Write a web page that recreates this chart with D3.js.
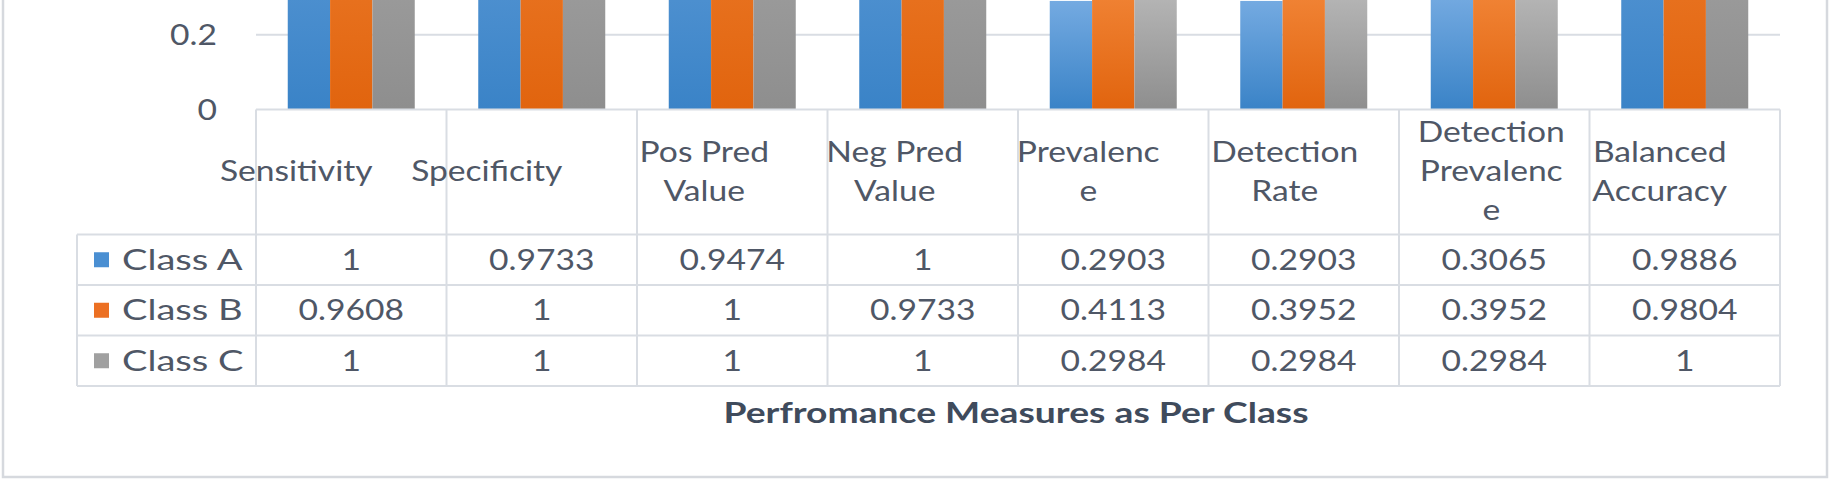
<!DOCTYPE html>
<html>
<head>
<meta charset="utf-8">
<script src="https://cdn.jsdelivr.net/npm/d3@7"></script>
<style>
  html, body { margin: 0; padding: 0; background: #ffffff; }
  svg { display: block; }
</style>
</head>
<body>
<svg id="chart" width="1834" height="480"></svg>
<script>
// ---------------- data ----------------
const categories = ["Sensitivity", "Specificity", "Pos Pred Value", "Neg Pred Value",
  "Prevalence", "Detection Rate", "Detection Prevalence", "Balanced Accuracy"];
const headerLines = [["Sensitivity"], ["Specificity"], ["Pos Pred", "Value"], ["Neg Pred", "Value"],
  ["Prevalenc", "e"], ["Detection", "Rate"], ["Detection", "Prevalenc", "e"], ["Balanced", "Accuracy"]];
const seriesNames = ["Class A", "Class B", "Class C"];
const classA = [1, 0.9733, 0.9474, 1, 0.2903, 0.2903, 0.3065, 0.9886];
const classB = [0.9608, 1, 1, 0.9733, 0.4113, 0.3952, 0.3952, 0.9804];
const classC = [1, 1, 1, 1, 0.2984, 0.2984, 0.2984, 1];
const yTicks = [0, 0.2, 0.4, 0.6, 0.8, 1, 1.2];
const axisTitle = "Perfromance Measures as Per Class";

// ---------------- layout / style ----------------
const W = 1834, H = 480;
const plotLeft = 256, plotRight = 1780;
const baseY = 109.5, unitPx = 374;
const headerBottom = 234.5, rowH = 50.5, tableLeft = 77;
const headerShift = [-55, -55, -28, -28, -25, -19, -3, -25];
const SX = 1.2;                 // horizontal stretch of the text (as in the picture)
const FONT = "Lato, 'Open Sans', sans-serif";
const textColor = "#4f5766";
const lineColor = "#d9dde3";
const gradStops = [
  ["#74aae1", "#3a83c7"],
  ["#f58c40", "#e1640e"],
  ["#b4b4b4", "#8e8e8e"]
];
const keyColors = ["#4a8fd2", "#ec7023", "#a0a0a0"];

const seriesData = [classA, classB, classC];
const svg = d3.select("#chart");

svg.append("rect").attr("x", 0).attr("y", 0).attr("width", W).attr("height", H).attr("fill", "#fff");

// gradients
const defs = svg.append("defs");
gradStops.forEach((g, i) => {
  const lg = defs.append("linearGradient").attr("id", "grad" + i)
    .attr("x1", 0).attr("y1", 0).attr("x2", 0).attr("y2", 1);
  lg.append("stop").attr("offset", "0%").attr("stop-color", g[0]);
  lg.append("stop").attr("offset", "100%").attr("stop-color", g[1]);
});

// scales
const x0 = d3.scaleBand().domain(categories).range([plotLeft, plotRight]).padding(0);
const x1 = d3.scaleBand().domain(seriesNames).range([0, x0.bandwidth()])
  .paddingInner(0).paddingOuter(0.75);
const y = d3.scaleLinear().domain([0, 1.2]).range([baseY, baseY - 1.2 * unitPx]);

function sText(parent, x, yy, txt, anchor, opts = {}) {
  const g = parent.append("g").attr("transform", `translate(${x},${yy}) scale(${opts.sx || SX},1)`);
  return g.append("text")
    .attr("x", 0).attr("y", 0)
    .attr("text-anchor", anchor)
    .attr("dominant-baseline", "central")
    .attr("font-family", FONT)
    .attr("font-size", opts.size || 28)
    .attr("font-weight", opts.weight || "normal")
    .attr("fill", opts.color || textColor)
    .text(txt);
}

// gridlines (above 0)
svg.append("g").selectAll("line").data(yTicks.filter(t => t > 0)).join("line")
  .attr("x1", plotLeft).attr("x2", plotRight)
  .attr("y1", d => y(d)).attr("y2", d => y(d))
  .attr("stroke", lineColor).attr("stroke-width", 2);

// y axis labels via d3 axis (only the ticks inside the visible crop)
const visibleTicks = yTicks.filter(t => y(t) > 12);
const yAxis = d3.axisLeft(y).tickValues(visibleTicks).tickFormat(d3.format("~g")).tickSize(0);
const yg = svg.append("g").attr("transform", `translate(${plotLeft},0)`).call(yAxis);
yg.select(".domain").remove();
yg.selectAll(".tick text").remove();
yg.selectAll(".tick").each(function (d) {
  sText(d3.select(this), -39, -1, d3.format("~g")(d), "end");
});

// bars
const groups = svg.append("g").selectAll("g").data(categories).join("g")
  .attr("transform", d => `translate(${x0(d)},0)`);
groups.selectAll("rect").data((d, i) => seriesNames.map((s, j) => ({ s, j, v: seriesData[j][i] })))
  .join("rect")
  .attr("x", d => x1(d.s))
  .attr("width", x1.bandwidth())
  .attr("y", d => y(d.v))
  .attr("height", d => y(0) - y(d.v))
  .attr("fill", d => `url(#grad${d.j})`);

// data table
const tg = svg.append("g");
const rowYs = seriesNames.map((s, i) => headerBottom + i * rowH);
const tableBottom = headerBottom + seriesNames.length * rowH;
tg.append("line").attr("x1", plotLeft).attr("x2", plotRight).attr("y1", baseY).attr("y2", baseY)
  .attr("stroke", lineColor).attr("stroke-width", 2);
[headerBottom, ...rowYs.map(r => r + rowH)].forEach(yy => {
  tg.append("line").attr("x1", tableLeft).attr("x2", plotRight).attr("y1", yy).attr("y2", yy)
    .attr("stroke", lineColor).attr("stroke-width", 2);
});
categories.forEach(c => {
  tg.append("line").attr("x1", x0(c)).attr("x2", x0(c)).attr("y1", baseY).attr("y2", tableBottom)
    .attr("stroke", lineColor).attr("stroke-width", 2);
});
tg.append("line").attr("x1", plotRight).attr("x2", plotRight).attr("y1", baseY).attr("y2", tableBottom)
  .attr("stroke", lineColor).attr("stroke-width", 2);
tg.append("line").attr("x1", tableLeft).attr("x2", tableLeft).attr("y1", headerBottom).attr("y2", tableBottom)
  .attr("stroke", lineColor).attr("stroke-width", 2);

// header labels
const headerMid = (baseY + headerBottom) / 2 - 1.5;
const lineGap = 39;
headerLines.forEach((lines, i) => {
  const cx = x0(categories[i]) + x0.bandwidth() / 2 + headerShift[i];
  lines.forEach((ln, k) => {
    const yy = headerMid + (k - (lines.length - 1) / 2) * lineGap;
    sText(svg, cx, yy, ln, "middle");
  });
});

// rows: legend keys + values
seriesNames.forEach((s, j) => {
  const cy = rowYs[j] + rowH / 2 - 1;
  svg.append("rect").attr("x", 94).attr("y", cy - 6.5).attr("width", 15).attr("height", 15)
    .attr("fill", keyColors[j]);
  sText(svg, 122, cy, s, "start", { sx: 1.36 });
  seriesData[j].forEach((v, i) => {
    sText(svg, x0(categories[i]) + x0.bandwidth() / 2, cy, String(v), "middle");
  });
});

// axis title
sText(svg, (plotLeft + plotRight) / 2 - 2, 412, axisTitle, "middle",
  { weight: "bold", size: 28, color: "#3f4b5c", sx: 1.33 });

// chart outer border
svg.append("rect").attr("x", 3).attr("y", -20).attr("width", 1824).attr("height", 497)
  .attr("fill", "none").attr("stroke", "#d6d9de").attr("stroke-width", 2.5);
</script>
</body>
</html>
